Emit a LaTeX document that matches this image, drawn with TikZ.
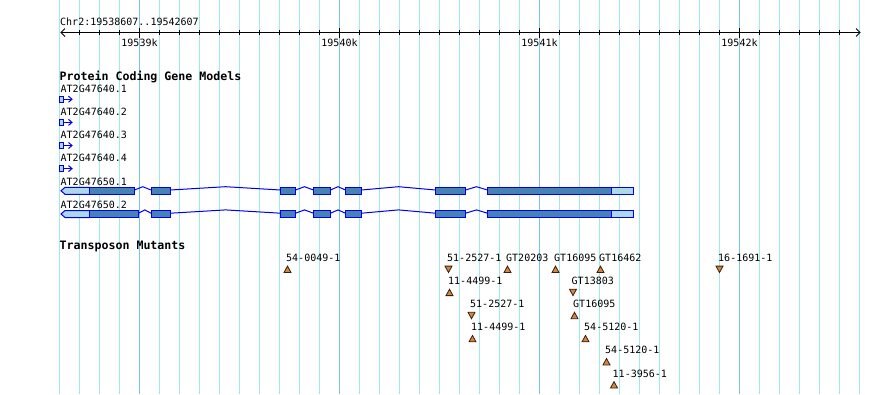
\documentclass[tikz,border=0pt]{standalone}
\usepackage{fontspec}
\usetikzlibrary{calc}
\newfontfamily\gbmono{DejaVu Sans Mono}
\definecolor{gbgridlight}{RGB}{160,232,240}
\definecolor{gbgriddark}{RGB}{120,195,235}
\definecolor{cdsfill}{RGB}{70,130,180}
\definecolor{utrfill}{RGB}{173,216,230}
\definecolor{geneline}{RGB}{0,0,240}
\definecolor{mutfill}{RGB}{210,135,65}
\definecolor{mutline}{RGB}{60,30,10}
\tikzset{
  gline/.style={fill=gbgridlight,draw=none},
  gmajor/.style={fill=gbgriddark,draw=none},
  rulerline/.style={draw=black,line width=1pt},
  monotext/.style={font=\gbmono\fontsize{10}{12}\selectfont,inner sep=0pt,anchor=base west,text=black},
  ticktext/.style={font=\gbmono\fontsize{10}{12}\selectfont,inner sep=0pt,anchor=base,text=black},
  titletext/.style={font=\gbmono\bfseries\fontsize{11.6}{13}\selectfont,inner sep=0pt,anchor=base west,text=black},
  cds/.style={fill=cdsfill,draw=geneline,line width=1pt},
  utr/.style={fill=utrfill,draw=geneline,line width=1pt},
  intron/.style={draw=geneline,line width=1pt},
  mutant/.style={fill=mutfill,draw=mutline,line width=0.8pt,line join=miter},
  triu/.pic={\path[mutant] (-3.5,3.2) -- (0,-3.2) -- (3.5,3.2) -- cycle;},
  trid/.pic={\path[mutant] (-3.5,-3.2) -- (0,3.2) -- (3.5,-3.2) -- cycle;}
}
\begin{document}
\begin{tikzpicture}[x=1pt,y=-1pt]
\useasboundingbox (0,0) rectangle (890,394);
\fill[white] (0,0) rectangle (890,394);
% grid
\foreach \k in {0,...,40} {\path[gline] (59+20*\k,0) rectangle ++(1,394);}
\foreach \xx in {139,339,539,739} {\path[gmajor] (\xx,0) rectangle ++(1,394);}
% ruler
\coordinate (rl) at (61,32.5);
\coordinate (rr) at (860,32.5);
\draw[rulerline] (rl) -- (rr);
\draw[rulerline] ($(rl)+(4,-4)$) -- (rl) -- ($(rl)+(4,4)$);
\draw[rulerline] ($(rr)+(-4,-4)$) -- (rr) -- ($(rr)+(-4,4)$);
\foreach \k in {0,...,38} {\draw[black,line width=1pt] (79.5+20*\k,30) -- ++(0,5);}
\foreach \xx/\lab [count=\i] in {139.5/19539k,339.5/19540k,539.5/19541k,739.5/19542k} {
  \draw[black,line width=1pt] (\xx,27.5) -- (\xx,37.5);
  \node[ticktext] (tick\i) at (\xx,46.7) {\lab};
}
\node[monotext] (chr) at (60,25) {Chr2:19538607..19542607};
% gene models
\node[titletext] (pcgm) at (59.5,80) {Protein Coding Gene Models};
\foreach \lab/\yb [count=\i] in {AT2G47640.1/92.3,AT2G47640.2/115.5,AT2G47640.3/138.6,AT2G47640.4/161.7} {
  \node[monotext] (g\i) at (60.5,\yb) {\lab};
  \pgfmathsetmacro\cc{\yb+6.9}
  \draw[intron] (63.5,\cc) -- (72,\cc);
  \draw[intron] (68.5,\cc-3) -- (72,\cc) -- (68.5,\cc+3);
  \path[utr] (59.5,\cc-3) rectangle (63.5,\cc+3);
}
\foreach \lab/\yb/\eend [count=\i from 5] in {AT2G47650.1/185/134.5,AT2G47650.2/208.2/138.5} {
  \node[monotext] (g\i) at (60.5,\yb) {\lab};
  \pgfmathsetmacro\cc{\yb+5.8}
  % introns
  \foreach \a/\b in {\eend/151,170.5/280.5,295.5/313.5,330.5/345.5,361.5/435.5,465.5/487.5} {
    \draw[intron] (\a,\cc-0.8) -- ({(\a+\b)/2},\cc-4.1) -- (\b,\cc-0.8);
  }
  % first exon with reverse tip
  \path[utr] (61,\cc) -- (65,\cc-3.5) -- (89.5,\cc-3.5) -- (89.5,\cc+3.5) -- (65,\cc+3.5) -- cycle;
  \path[cds] (89.5,\cc-3.5) rectangle (\eend,\cc+3.5);
  \foreach \a/\b in {151/170.5,280.5/295.5,313.5/330.5,345.5/361.5,435.5/465.5,487.5/611.5} {
    \path[cds] (\a,\cc-3.5) rectangle (\b,\cc+3.5);
  }
  \path[utr] (611.5,\cc-3.5) rectangle (633.5,\cc+3.5);
}
% transposon mutants
\node[titletext] (tm) at (59.5,249.3) {Transposon Mutants};
\foreach \xx/\r/\d/\t [count=\i] in {
  287.5/0/u/54-0049-1, 448.5/0/d/51-2527-1, 507.5/0/u/GT20203, 555.5/0/u/GT16095,
  600.5/0/u/GT16462, 719.5/0/d/16-1691-1, 449.5/1/u/11-4499-1, 573/1/d/GT13803,
  471.5/2/d/51-2527-1, 574.5/2/u/GT16095, 472.5/3/u/11-4499-1, 585.5/3/u/54-5120-1,
  606.5/4/u/54-5120-1, 614/5/u/11-3956-1} {
  \pgfmathsetmacro\yb{261.5+23.1*\r}
  \node[monotext] (m\i) at (\xx-1.5,\yb) {\t};
  \pic at (\xx,\yb+7.8) {tri\d};
}
\end{tikzpicture}
\end{document}
